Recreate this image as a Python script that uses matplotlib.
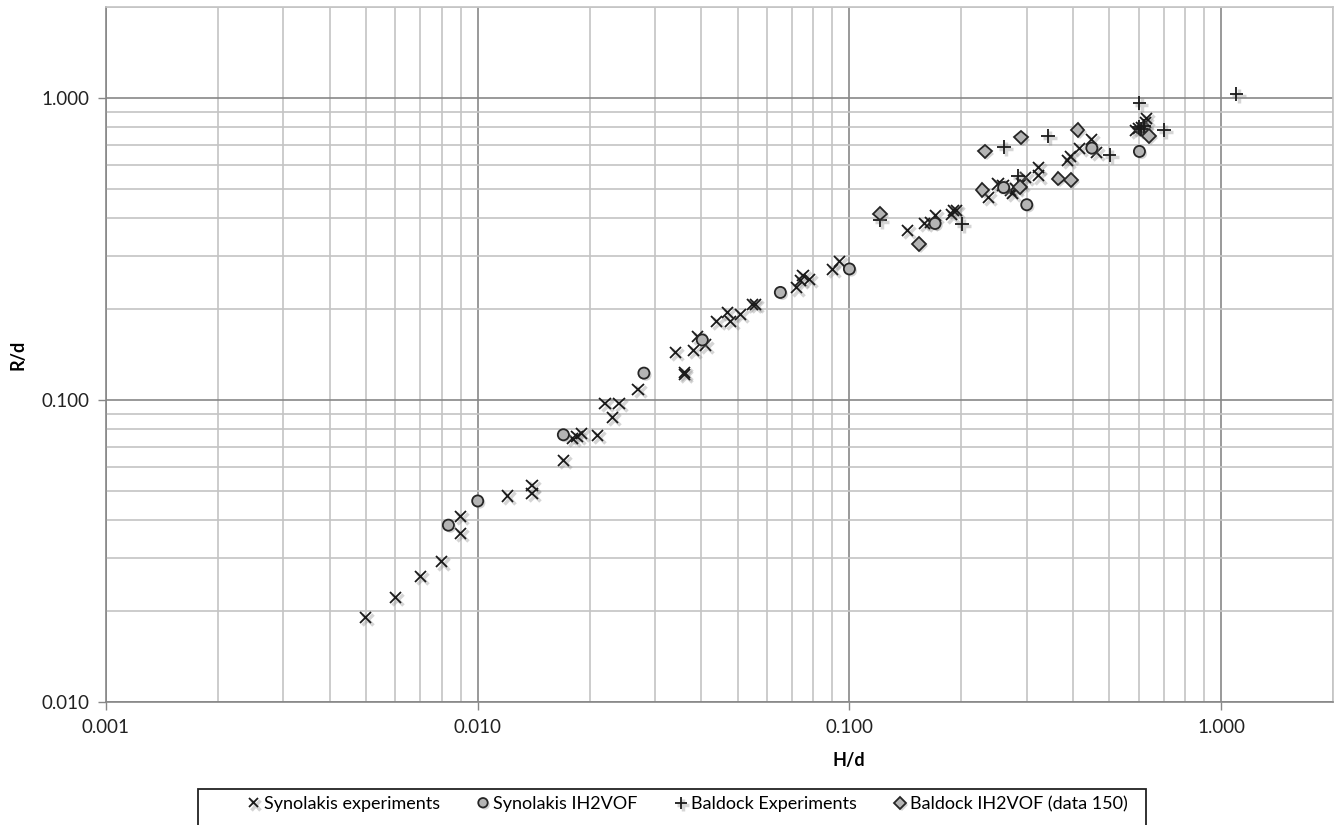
import matplotlib
matplotlib.use("Agg")
import matplotlib.pyplot as plt
import matplotlib.patheffects as pe
from matplotlib.ticker import LogLocator, FixedLocator, NullFormatter

plt.rcParams['font.family'] = ['Lato', 'DejaVu Sans']

# Synolakis experiments (x)
syn_exp_h = [0.005, 0.006, 0.007, 0.008, 0.009, 0.009, 0.012, 0.014, 0.014, 0.017,
             0.018, 0.0185, 0.019, 0.021, 0.022, 0.023, 0.024, 0.027, 0.034, 0.036,
             0.036, 0.038, 0.039, 0.041, 0.044, 0.047, 0.048, 0.051, 0.055, 0.056,
             0.072, 0.074, 0.075, 0.078, 0.090, 0.094, 0.143, 0.159, 0.165, 0.170,
             0.188, 0.191, 0.194, 0.237, 0.251, 0.259, 0.271, 0.275, 0.280, 0.290,
             0.297, 0.323, 0.323, 0.386, 0.394, 0.415, 0.449, 0.463, 0.590, 0.600,
             0.610, 0.625, 0.631]
syn_exp_r = [0.0191, 0.0222, 0.0261, 0.0291, 0.0412, 0.0361, 0.0481, 0.0522, 0.0490, 0.0631,
             0.0744, 0.0755, 0.0773, 0.0763, 0.0976, 0.0874, 0.0976, 0.1081, 0.1432, 0.1236,
             0.1214, 0.1457, 0.162, 0.152, 0.182, 0.195, 0.182, 0.192, 0.207, 0.207,
             0.235, 0.248, 0.258, 0.250, 0.270, 0.288, 0.365, 0.384, 0.386, 0.407,
             0.410, 0.425, 0.423, 0.468, 0.519, 0.512, 0.493, 0.484, 0.500, 0.520,
             0.545, 0.588, 0.552, 0.622, 0.640, 0.682, 0.726, 0.659, 0.780, 0.790,
             0.800, 0.828, 0.857]

# Synolakis IH2VOF (circles)
syn_vof_h = [0.00834, 0.0100, 0.0170, 0.0280, 0.0402, 0.0652, 0.100, 0.170, 0.260, 0.300, 0.449, 0.603]
syn_vof_r = [0.0385, 0.0463, 0.0767, 0.1227, 0.158, 0.227, 0.2715, 0.384, 0.505, 0.443, 0.682, 0.665]

# Baldock experiments (+)
bal_exp_h = [0.1206, 0.201, 0.260, 0.284, 0.342, 0.501, 0.603, 0.600, 0.610, 0.620, 0.703, 1.10]
bal_exp_r = [0.394, 0.382, 0.689, 0.552, 0.748, 0.647, 0.965, 0.800, 0.790, 0.810, 0.785, 1.033]

# Baldock IH2VOF data 150 (diamonds)
bal_vof_h = [0.1206, 0.1536, 0.228, 0.232, 0.288, 0.289, 0.365, 0.395, 0.411, 0.640]
bal_vof_r = [0.414, 0.328, 0.497, 0.665, 0.508, 0.740, 0.541, 0.536, 0.784, 0.748]

major_ticks = [0.001, 0.01, 0.1, 1.0]
x_tick_labels = ["0.001", "0.010", "0.100", "1.000"]
y_tick_labels = ["0.010", "0.100", "1.000"]

fig = plt.figure(figsize=(13.38, 8.25), dpi=100)
ax = fig.add_axes([106 / 1338, 1 - 702 / 825, 1227 / 1338, 695 / 825])

line_shadow = [pe.SimpleLineShadow(offset=(1.5, -1.5), shadow_color='#888888', alpha=0.35, linewidth=2.5), pe.Normal()]
patch_shadow = [pe.SimplePatchShadow(offset=(1.5, -1.5), shadow_rgbFace='#888888', alpha=0.35), pe.Normal()]

ax.plot(syn_exp_h, syn_exp_r, linestyle='none', marker='x', ms=8, mew=1.3, color='#1a1a1a',
        label='Synolakis experiments', path_effects=line_shadow, zorder=3)
ax.plot(syn_vof_h, syn_vof_r, linestyle='none', marker='o', ms=8, mew=1.3, mfc='#b4b4b4', mec='#262626',
        label='Synolakis IH2VOF', path_effects=patch_shadow, zorder=3)
ax.plot(bal_exp_h, bal_exp_r, linestyle='none', marker='+', ms=10, mew=1.3, color='#1a1a1a',
        label='Baldock Experiments', path_effects=line_shadow, zorder=3)
ax.plot(bal_vof_h, bal_vof_r, linestyle='none', marker='D', ms=7, mew=1.3, mfc='#b4b4b4', mec='#262626',
        label='Baldock IH2VOF (data 150)', path_effects=patch_shadow, zorder=3)

ax.set_xscale('log')
ax.set_yscale('log')
ax.set_xlim(0.001, 2)
ax.set_ylim(0.01, 2)

ax.xaxis.set_major_locator(FixedLocator(major_ticks))
ax.set_xticklabels(x_tick_labels)
ax.yaxis.set_major_locator(FixedLocator(major_ticks[1:]))
ax.set_yticklabels(y_tick_labels)
ax.xaxis.set_minor_locator(LogLocator(base=10, subs=range(2, 10)))
ax.yaxis.set_minor_locator(LogLocator(base=10, subs=range(2, 10)))
ax.xaxis.set_minor_formatter(NullFormatter())
ax.yaxis.set_minor_formatter(NullFormatter())

# grid: darker at decades, lighter in between
ax.grid(True, which='major', color='#878787', linewidth=1.2)
ax.grid(True, which='minor', color='#c4c4c4', linewidth=1.2)
ax.set_axisbelow(True)

ax.tick_params(which='major', direction='out', length=6, width=1, color='#878787',
               labelsize=13.5, labelcolor='#222222', pad=6)
ax.tick_params(which='minor', length=0)
for side in ['left', 'bottom']:
    ax.spines[side].set_color('#878787')
    ax.spines[side].set_linewidth(1.2)
for side in ['top', 'right']:
    ax.spines[side].set_color('#c4c4c4')
    ax.spines[side].set_linewidth(1.2)

# axis titles placed where the original has them
ax.set_xlabel('H/d', fontsize=13, fontweight='bold')
ax.set_ylabel('R/d', fontsize=13, fontweight='bold')
ax.xaxis.set_label_coords((849 - 106) / 1227, -50 / 695)
ax.yaxis.set_label_coords(-80 / 1227, 0.5)

# legend box runs off the bottom of the figure like the original
fig.patches.append(plt.Rectangle((198 / 1338, -0.02), (1146 - 198) / 1338, 0.02 + (825 - 789) / 825,
                                 transform=fig.transFigure, fill=False, edgecolor='#222222', linewidth=1.3))
fig.legend(loc='center', bbox_to_anchor=(686 / 1338, 1 - 804 / 825), ncol=4, frameon=False,
           fontsize=13, handletextpad=0.05, columnspacing=1.9, handlelength=1.0, markerscale=0.85)

plt.savefig('out.png', dpi=100)
